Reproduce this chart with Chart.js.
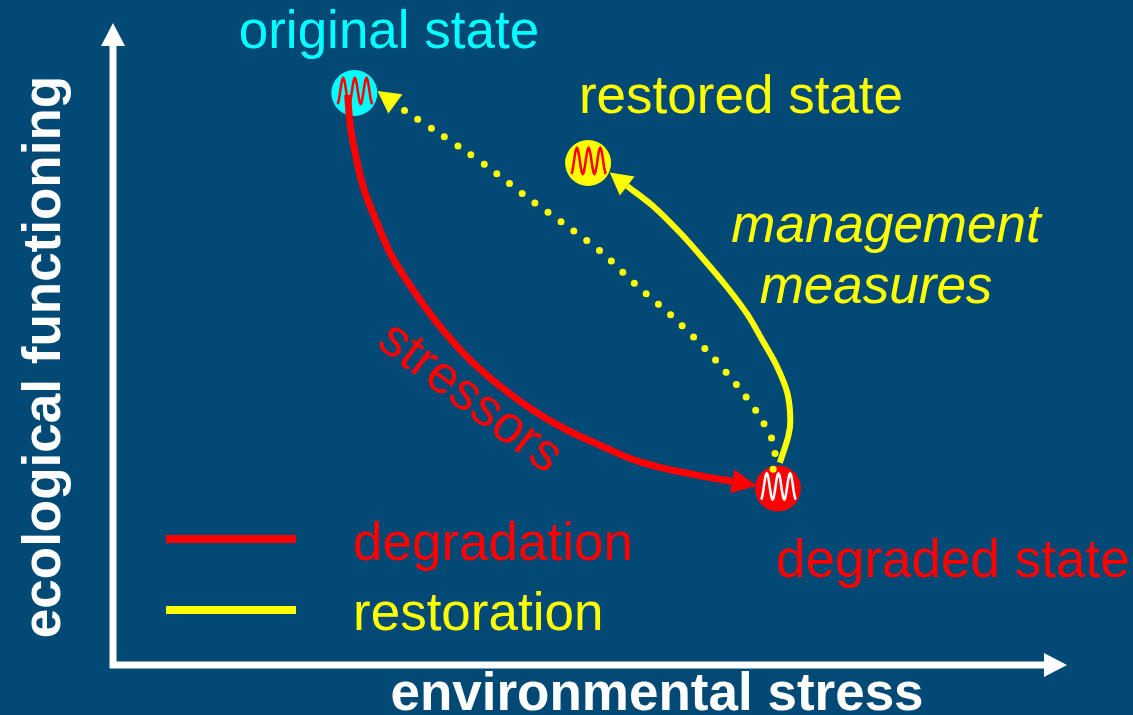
<!DOCTYPE html>
<html>
<head>
<meta charset="utf-8">
<script src="https://cdn.jsdelivr.net/npm/chart.js@4.4.1/dist/chart.umd.min.js"></script>
<style>
    html, body { margin: 0; padding: 0; background: #024a75; }
    #wrap { width: 1133px; height: 715px; }
</style>
</head>
<body>
<div id="wrap"><canvas id="diagram" width="1133" height="715"></canvas></div>
<script>
// x = environmental stress, y = ecological functioning, both 0-100
var state_names = ["original state", "restored state", "degraded state"];
var state_x = [25.3, 49.8, 69.7];
var state_y = [89.1, 78.2, 27.5];
var state_colors = ["#00ffff", "#ffff00", "#ff0000"];
var wiggle_colors = ["#ff0000", "#ff0000", "#ffffff"];

// degradation path (original -> degraded)
var degradation_x = [24.6, 24.8, 25.4, 26.2, 27.5, 29.0, 31.1, 33.5, 37.1, 40.6, 44.0, 47.6, 51.1, 54.5, 58.1, 61.5, 64.9];
var degradation_y = [88.8, 84.9, 79.7, 74.6, 69.5, 64.3, 59.2, 54.2, 48.0, 43.4, 39.7, 36.6, 34.2, 32.0, 30.5, 29.5, 28.6];

// management measures (degraded -> restored)
var restoration_x = [69.9, 70.8, 71.0, 70.7, 69.6, 68.1, 66.5, 64.4, 61.8, 59.4, 56.6, 53.9];
var restoration_y = [31.5, 35.7, 38.2, 42.3, 46.5, 50.5, 54.6, 58.8, 63.4, 67.4, 71.5, 74.6];

// hoped-for return (degraded -> original), dotted
var return_x = [69.2, 69.4, 69.1, 68.3, 67.5, 65.5, 62.3, 58.7, 54.9, 51.3, 47.2, 43.2, 39.2, 36.5, 33.8, 30.9, 29.6];
var return_y = [30.5, 32.8, 35.1, 37.4, 39.4, 43.4, 48.9, 54.2, 59.1, 64.2, 68.8, 73.1, 77.7, 80.5, 83.2, 86.0, 87.4];

var legend_labels = ["degradation", "restoration"];

var BG = "#024a75";
var RED = "#ff0000";
var YELLOW = "#ffff00";
var FONT = "'Liberation Sans', Arial, sans-serif";

function toPoints(xs, ys) {
    var pts = [];
    for (var i = 0; i < xs.length; i++) {
        pts.push({x: xs[i], y: ys[i]});
    }
    return pts;
}

function arrowHead(ctx, x, y, dx, dy, len, half, color) {
    var d = Math.sqrt(dx * dx + dy * dy);
    dx /= d;
    dy /= d;
    ctx.save();
    ctx.fillStyle = color;
    ctx.beginPath();
    ctx.moveTo(x + dx * len, y + dy * len);
    ctx.lineTo(x - dy * half, y + dx * half);
    ctx.lineTo(x + dy * half, y - dx * half);
    ctx.closePath();
    ctx.fill();
    ctx.restore();
}

function text(ctx, str, x, y, color, font, align) {
    ctx.fillStyle = color;
    ctx.font = font;
    ctx.textAlign = align || "left";
    ctx.textBaseline = "alphabetic";
    ctx.fillText(str, x, y);
}

var diagramPlugin = {
    id: "diagram",
    beforeDraw: function (chart) {
        var ctx = chart.ctx;
        ctx.save();
        ctx.fillStyle = BG;
        ctx.fillRect(0, 0, chart.width, chart.height);
        ctx.restore();
    },
    afterDatasetDraw: function (chart, args) {
        // little oscillation sign inside each state circle
        if (chart.data.datasets[args.index].label !== "states") {
            return;
        }
        var ctx = chart.ctx;
        ctx.save();
        ctx.lineWidth = 2.5;
        args.meta.data.forEach(function (pt, i) {
            ctx.strokeStyle = wiggle_colors[i];
            ctx.beginPath();
            for (var s = 0; s <= 60; s++) {
                var t = s / 60;
                var px = pt.x - 17 + 35 * t;
                var py = pt.y - 2 + 13 * Math.cos(2 * Math.PI * 3 * t);
                if (s === 0) ctx.moveTo(px, py); else ctx.lineTo(px, py);
            }
            ctx.stroke();
        });
        ctx.restore();
    },
    afterDatasetsDraw: function (chart) {
        var ctx = chart.ctx;
        var area = chart.chartArea;

        // arrow heads at the end of each path
        chart.data.datasets.forEach(function (ds, i) {
            if (!ds.arrow) {
                return;
            }
            var pts = chart.getDatasetMeta(i).data;
            var a = pts[pts.length - 2];
            var b = pts[pts.length - 1];
            arrowHead(ctx, b.x, b.y, b.x - a.x, b.y - a.y, ds.arrowLength, 12, ds.arrow);
        });

        // axes
        ctx.save();
        ctx.strokeStyle = "#ffffff";
        ctx.lineWidth = 7;
        ctx.beginPath();
        ctx.moveTo(area.left, area.bottom + 3);
        ctx.lineTo(area.left, area.top + 20);
        ctx.moveTo(area.left - 3, area.bottom);
        ctx.lineTo(area.right - 20, area.bottom);
        ctx.stroke();
        ctx.restore();
        arrowHead(ctx, area.left, area.top + 23, 0, -1, 23, 12, "#ffffff");
        arrowHead(ctx, area.right - 23, area.bottom, 1, 0, 23, 12, "#ffffff");
    },
    afterDraw: function (chart) {
        var ctx = chart.ctx;
        ctx.save();

        // axis titles
        text(ctx, "environmental stress", 657, 710, "#ffffff", "bold 53px " + FONT, "center");
        ctx.save();
        ctx.translate(60, 357);
        ctx.rotate(-Math.PI / 2);
        text(ctx, "ecological functioning", 0, 0, "#ffffff", "bold 53px " + FONT, "center");
        ctx.restore();

        // state labels
        text(ctx, state_names[0], 389, 48, state_colors[0], "53px " + FONT, "center");
        text(ctx, state_names[1], 741, 113, state_colors[1], "53px " + FONT, "center");
        text(ctx, state_names[2], 776, 577, state_colors[2], "53px " + FONT, "left");

        // path labels
        text(ctx, "management", 886, 242, YELLOW, "italic 53px " + FONT, "center");
        text(ctx, "measures", 876, 303, YELLOW, "italic 53px " + FONT, "center");
        ctx.save();
        ctx.translate(461, 410);
        ctx.rotate(37 * Math.PI / 180);
        text(ctx, "stressors", 0, 0, RED, "53px " + FONT, "center");
        ctx.restore();

        // legend
        ctx.lineWidth = 8;
        ctx.strokeStyle = RED;
        ctx.beginPath();
        ctx.moveTo(166, 539);
        ctx.lineTo(296, 539);
        ctx.stroke();
        ctx.strokeStyle = YELLOW;
        ctx.beginPath();
        ctx.moveTo(166, 610);
        ctx.lineTo(296, 610);
        ctx.stroke();
        text(ctx, legend_labels[0], 353, 560, RED, "53px " + FONT, "left");
        text(ctx, legend_labels[1], 353, 630, YELLOW, "53px " + FONT, "left");

        ctx.restore();
    }
};

new Chart(document.getElementById("diagram"), {
    type: "scatter",
    data: {
        datasets: [
            {
                label: "degradation",
                data: toPoints(degradation_x, degradation_y),
                showLine: true,
                cubicInterpolationMode: "monotone",
                borderColor: RED,
                borderWidth: 7,
                pointRadius: 0,
                arrow: RED,
                arrowLength: 25
            },
            {
                label: "restoration",
                data: toPoints(restoration_x, restoration_y),
                showLine: true,
                tension: 0.3,
                borderColor: YELLOW,
                borderWidth: 6,
                pointRadius: 0,
                arrow: YELLOW,
                arrowLength: 22
            },
            {
                label: "return",
                data: toPoints(return_x, return_y),
                showLine: true,
                tension: 0.3,
                borderColor: YELLOW,
                borderWidth: 7,
                borderDash: [0, 16],
                borderCapStyle: "round",
                pointRadius: 0,
                arrow: YELLOW,
                arrowLength: 22
            },
            {
                label: "states",
                data: toPoints(state_x, state_y),
                pointRadius: 23,
                pointBackgroundColor: state_colors,
                pointBorderWidth: 0,
                pointBorderColor: state_colors
            }
        ]
    },
    options: {
        responsive: false,
        animation: false,
        devicePixelRatio: 1,
        layout: {padding: {left: 113, right: 66, top: 15, bottom: 50}},
        scales: {
            x: {type: "linear", min: 0, max: 100, display: false},
            y: {type: "linear", min: 0, max: 100, display: false}
        },
        plugins: {
            legend: {display: false},
            tooltip: {enabled: false}
        }
    },
    plugins: [diagramPlugin]
});
</script>
</body>
</html>
